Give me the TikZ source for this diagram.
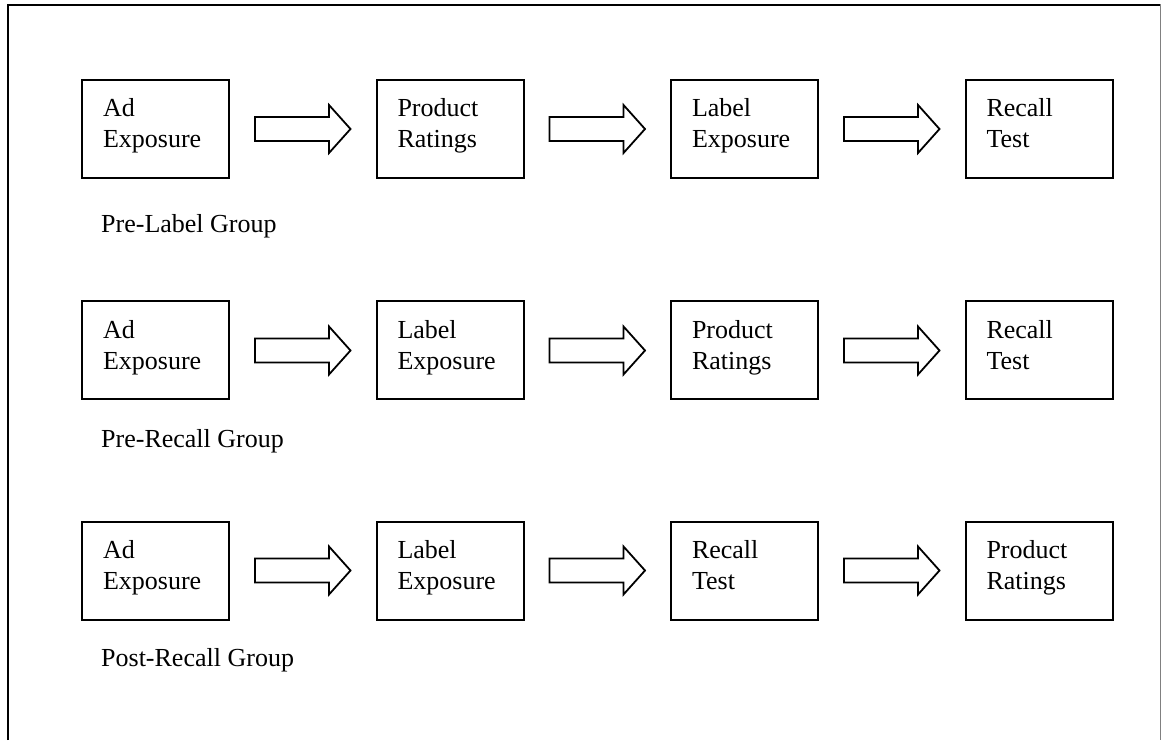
\documentclass[tikz,border=0pt]{standalone}
\usepackage{fontspec}
\setmainfont{Liberation Serif}
\usetikzlibrary{calc}
\newcommand\twolines[2]{\vbox to 98pt{\hsize=147pt\vskip15.3pt
  \hbox to 147pt{\hskip21pt\strut #1\hss}\hbox to 147pt{\hskip21pt\strut #2\hss}\vss}}
\tikzset{
  stagebox/.style={draw, line width=2pt, inner sep=0pt, minimum width=147pt, minimum height=98pt},
  grouplabel/.style={anchor=base west, inner sep=0pt},
  blockarrow/.style={draw, line width=1.8pt, line join=miter},
}
\newcommand\flowarrow[2]{%
  \draw[blockarrow] ($(#1.east)+(25,12)$) -- ($(#1.east)+(99,12)$) -- ($(#1.east)+(99,24)$)
    -- ($(#2.west)+(-25,0)$) -- ($(#1.east)+(99,-24)$) -- ($(#1.east)+(99,-12)$)
    -- ($(#1.east)+(25,-12)$) -- cycle;}
\begin{document}
\begin{tikzpicture}[x=1pt,y=1pt,font=\fontsize{26}{31}\selectfont]
\useasboundingbox (0,0) rectangle (1162,740);
% frame
\draw[line width=2pt] (7.5,0) -- (7.5,734.5) -- (1160,734.5);
\draw[gray, line width=1pt] (1160.5,735.5) -- (1160.5,0);
% row 1
\node[stagebox] (a1) at (155.5,611) {\twolines{Ad}{Exposure}};
\node[stagebox] (b1) at (450,611) {\twolines{Product}{Ratings}};
\node[stagebox] (c1) at (744.5,611) {\twolines{Label}{Exposure}};
\node[stagebox] (d1) at (1039,611) {\twolines{Recall}{Test}};
\flowarrow{a1}{b1}
\flowarrow{b1}{c1}
\flowarrow{c1}{d1}
\node[grouplabel] (g1) at (101,507) {Pre-Label Group};
% row 2
\node[stagebox] (a2) at (155.5,389.5) {\twolines{Ad}{Exposure}};
\node[stagebox] (b2) at (450,389.5) {\twolines{Label}{Exposure}};
\node[stagebox] (c2) at (744.5,389.5) {\twolines{Product}{Ratings}};
\node[stagebox] (d2) at (1039,389.5) {\twolines{Recall}{Test}};
\flowarrow{a2}{b2}
\flowarrow{b2}{c2}
\flowarrow{c2}{d2}
\node[grouplabel] (g2) at (101,293) {Pre-Recall Group};
% row 3
\node[stagebox] (a3) at (155.5,169.5) {\twolines{Ad}{Exposure}};
\node[stagebox] (b3) at (450,169.5) {\twolines{Label}{Exposure}};
\node[stagebox] (c3) at (744.5,169.5) {\twolines{Recall}{Test}};
\node[stagebox] (d3) at (1039,169.5) {\twolines{Product}{Ratings}};
\flowarrow{a3}{b3}
\flowarrow{b3}{c3}
\flowarrow{c3}{d3}
\node[grouplabel] (g3) at (101,74) {Post-Recall Group};
\end{tikzpicture}
\end{document}
